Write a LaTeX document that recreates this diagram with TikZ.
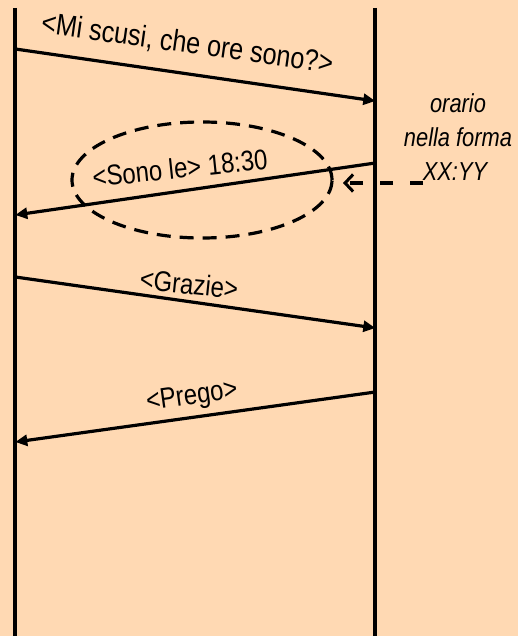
\documentclass[tikz,border=0pt]{standalone}
\usepackage{fontspec}
\setmainfont{Liberation Sans}
\newfontfamily\narrowfont[FakeStretch=0.84]{Liberation Sans}
\usetikzlibrary{arrows.meta,shapes.geometric}
\definecolor{bgpeach}{RGB}{255,217,179}
\begin{document}
\begin{tikzpicture}[x=1pt,y=-1pt,
  lifeline/.style={line width=3.8pt},
  msg/.style={line width=3.2pt,-{Triangle[length=12pt,width=11pt]}},
  lbl/.style={font=\narrowfont\fontsize{28.5}{32}\selectfont, anchor=base, inner sep=0pt},
  note/.style={font=\narrowfont\fontsize{26}{30}\selectfont\itshape, anchor=base, inner sep=0pt},
  dashbox/.style={draw, ellipse, line width=3.2pt, dash pattern=on 14pt off 9pt,
    minimum width=260pt, minimum height=116pt, inner sep=0pt},
  hint/.style={line width=3.2pt, dash pattern=on 13pt off 17pt,
    -{Straight Barb[length=8pt,width=17pt,line width=3pt]}}]
\fill[bgpeach] (0,0) rectangle (518,636);
\useasboundingbox (0,0) rectangle (518,636);
% lifelines
\coordinate (Ltop) at (15.3,8);
\coordinate (Lbot) at (15.3,636);
\coordinate (Rtop) at (375.3,8);
\coordinate (Rbot) at (375.3,636);
\draw[lifeline] (Ltop) -- (Lbot);
\draw[lifeline] (Rtop) -- (Rbot);
% message end points
\coordinate (a1) at (15.3,49);
\coordinate (b1) at (375.3,101);
\coordinate (b2) at (375.3,163);
\coordinate (a2) at (15.3,215);
\coordinate (a3) at (15.3,277);
\coordinate (b3) at (375.3,328);
\coordinate (b4) at (375.3,392);
\coordinate (a4) at (15.3,442);
% messages
\draw[msg] (a1) -- (b1);
\draw[msg] (b2) -- (a2);
\draw[msg] (a3) -- (b3);
\draw[msg] (b4) -- (a4);
% labels
\node[lbl, font=\narrowfont\fontsize{30}{34}\selectfont, rotate=-8] (l1) at (186,53) {<Mi scusi, che ore sono?>};
\node[lbl, rotate=6] (l2) at (181,178) {<Sono le> 18:30};
\node[lbl, rotate=-6] (l3) at (188,294) {<Grazie>};
\node[lbl, rotate=8] (l4) at (193,404) {<Prego>};
% highlight ellipse
\node[dashbox] (ell) at (202,180) {};
% note
\node[note] (n1) at (458,113) {orario};
\node[note] (n2) at (458,147) {nella forma};
\node[note] (n3) at (455,181) {XX:YY};
\coordinate (hs) at (423,183);
\coordinate (he) at (343,183);
\draw[hint] (hs) -- (he);
\end{tikzpicture}
\end{document}
